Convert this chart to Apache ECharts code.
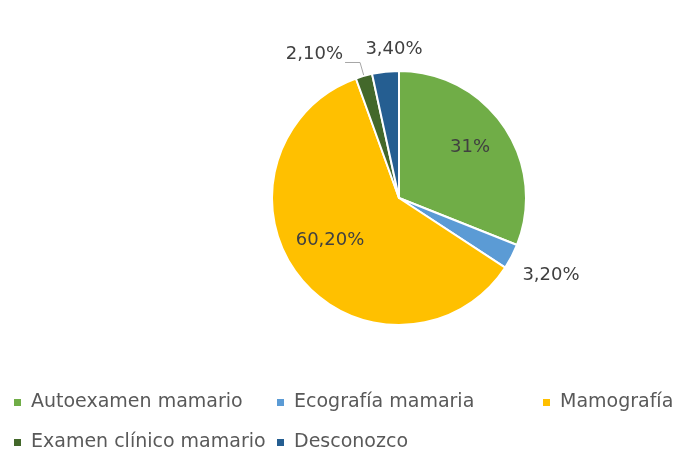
<!DOCTYPE html>
<html><head><meta charset="utf-8">
<script src="https://cdn.jsdelivr.net/npm/echarts@6/dist/echarts.min.js"></script>
<style>html,body{margin:0;padding:0;background:#fff}#c{width:680px;height:454px}</style>
</head><body><div id="c"></div>
<script>
const categories = ['Autoexamen mamario','Ecografía mamaria','Mamografía','Examen clínico mamario','Desconozco'];
const values = [31, 3.2, 60.2, 2.1, 3.4];
const labels = ['31%','3,20%','60,20%','2,10%','3,40%'];
const colors = ['#70AD47','#5B9BD5','#FFC000','#43682B','#255E91'];

// layout (not data)
const CX = 399, CY = 198, R = 127;
const font = 'DejaVu Sans';
const labelAt = {0:[470,147], 1:[551,275], 2:[330,240], 4:[394,49]};
const legendPos = [[12,393],[275,393],[541,393],[12,433],[275,433]];

const chart = echarts.init(document.getElementById('c'));
const legends = categories.map((c,i)=>({
  data:[c], left:legendPos[i][0], top:legendPos[i][1], padding:0, icon:'rect', itemWidth:9, itemHeight:9, itemGap:8,
  selectedMode:false,
  textStyle:{fontFamily:font,fontSize:19,color:'#595959',padding:[0,0,0,4]}
}));

chart.setOption({
  animation:false,
  color:colors,
  legend:legends,
  series:[{
    type:'pie',
    center:[CX,CY], radius:R,
    startAngle:90, clockwise:true,
    itemStyle:{borderColor:'#fff',borderWidth:2},
    label:{fontFamily:font,fontSize:18,color:'#404040'},
    labelLine:{show:false},
    labelLayout:function(p){
      const pos = labelAt[p.dataIndex];
      return pos ? {x:pos[0], y:pos[1], align:'center', verticalAlign:'middle'} : {};
    },
    data: categories.map((c,i)=>({
      name:c, value:values[i],
      label: i===3
        ? {show:true, position:'outside', formatter:labels[i] + '\n ', lineHeight:16, distanceToLabelLine:2}
        : {show:true, position:'inside', formatter:labels[i]},
      labelLine:{show:i===3, length:14, length2:15, lineStyle:{color:'#a6a6a6',width:1}}
    }))
  }]
});
</script></body></html>
